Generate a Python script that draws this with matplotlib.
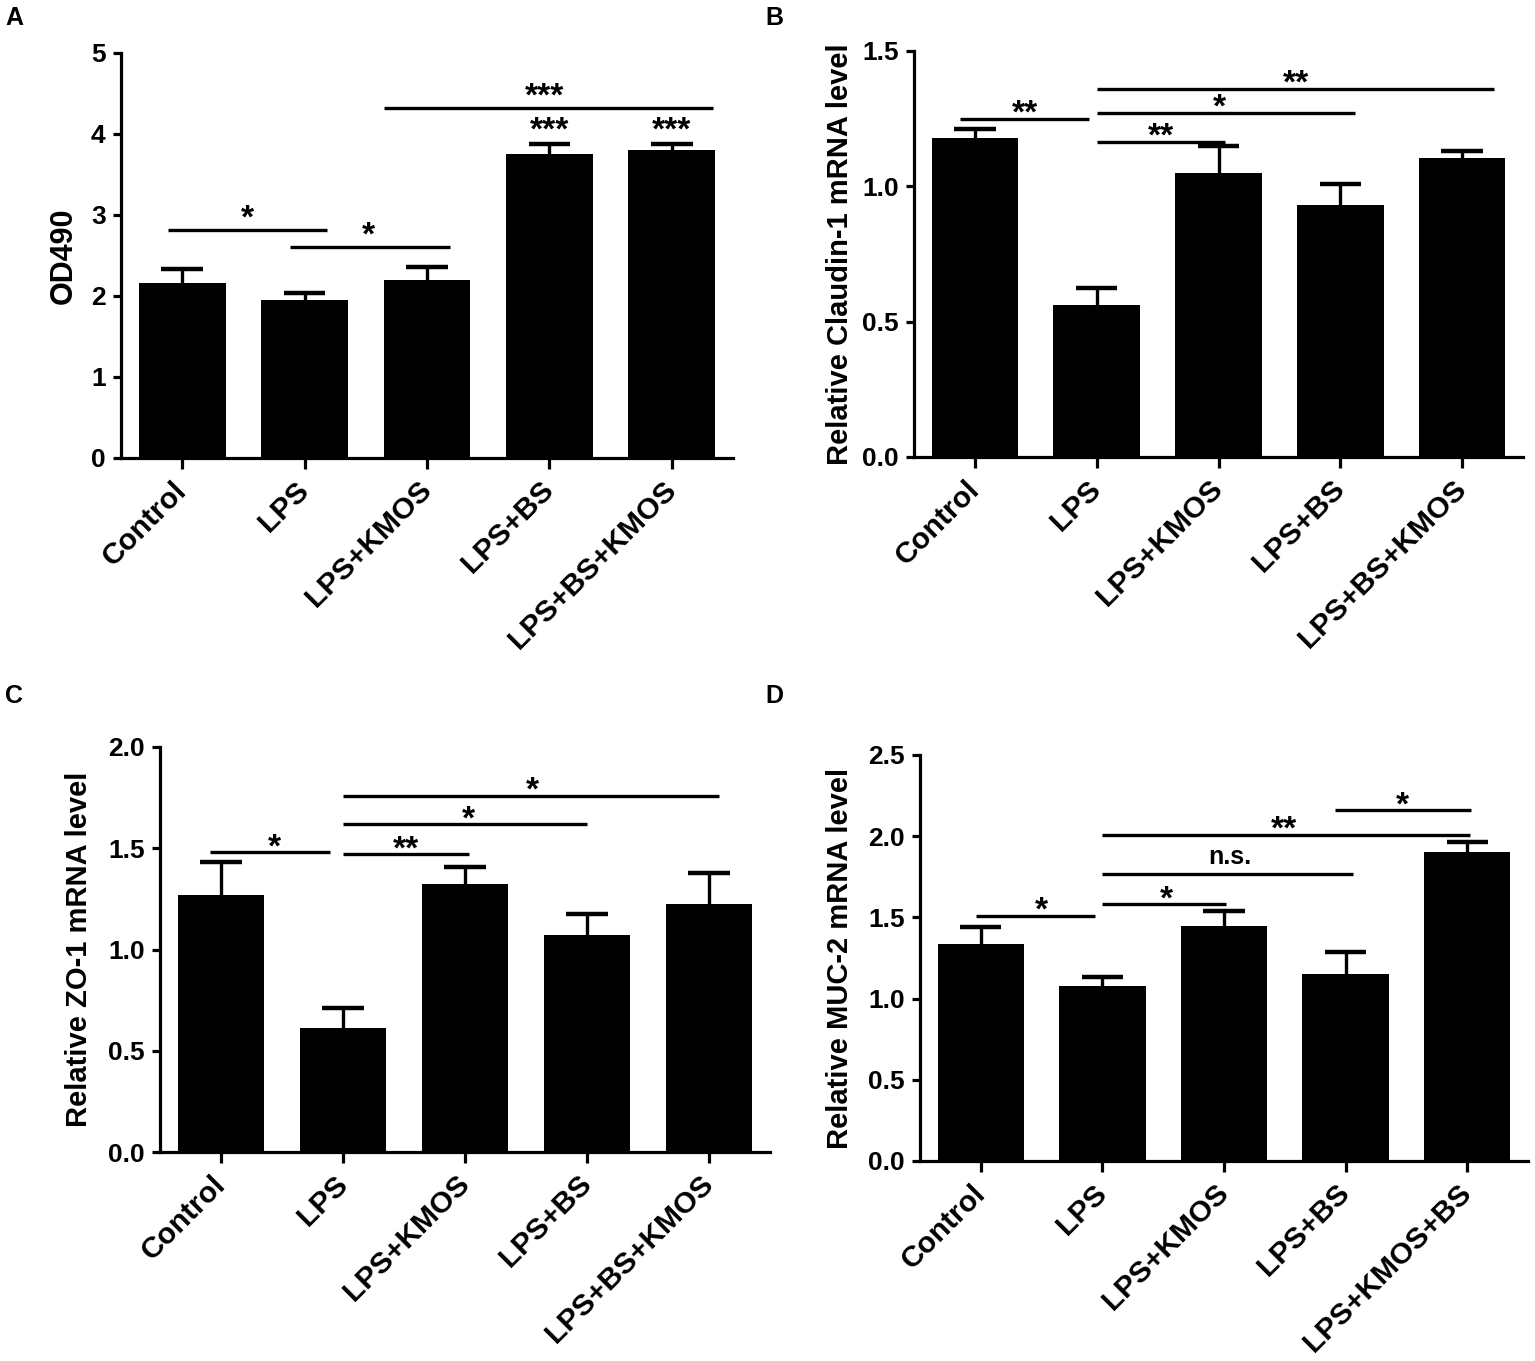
import matplotlib
matplotlib.use("Agg")
import matplotlib.pyplot as plt
from matplotlib import font_manager
import numpy as np

plt.rcParams['font.family'] = ['Liberation Sans', 'DejaVu Sans']
plt.rcParams['font.weight'] = 'bold'

_names = {f.name for f in font_manager.fontManager.ttflist}
NUM_FAMILY = ['Liberation Sans Narrow', 'Liberation Sans'] if 'Liberation Sans Narrow' in _names \
    else ['Liberation Sans']
NUM_SIZE = 21 if 'Liberation Sans Narrow' in _names else 19

# ---------------- data ----------------
groups_abc = ["Control", "LPS", "LPS+KMOS", "LPS+BS", "LPS+BS+KMOS"]
groups_d = ["Control", "LPS", "LPS+KMOS", "LPS+BS", "LPS+KMOS+BS"]

a_mean = [2.16, 1.95, 2.20, 3.75, 3.80]
a_err = [0.17, 0.09, 0.16, 0.13, 0.08]

b_mean = [1.18, 0.56, 1.05, 0.93, 1.105]
b_err = [0.03, 0.065, 0.10, 0.08, 0.025]

c_mean = [1.27, 0.61, 1.325, 1.07, 1.225]
c_err = [0.16, 0.10, 0.08, 0.105, 0.155]

d_mean = [1.335, 1.075, 1.447, 1.15, 1.90]
d_err = [0.105, 0.06, 0.09, 0.14, 0.066]

# significance brackets: (x_start, x_end, y, label, x_text)
a_sig = [(-0.12, 1.18, 2.81, "*", 0.53),
         (0.88, 2.19, 2.60, "*", 1.52),
         (1.65, 4.34, 4.32, "***", 2.96)]
a_top = [(3, "***"), (4, "***")]
b_sig = [(-0.12, 0.94, 1.25, "**", 0.41),
         (1.0, 2.05, 1.165, "**", 1.53),
         (1.0, 3.12, 1.27, "*", 2.01),
         (1.0, 4.26, 1.36, "**", 2.64)]
c_sig = [(-0.09, 0.89, 1.48, "*", 0.44),
         (1.0, 2.03, 1.47, "**", 1.52),
         (1.0, 3.0, 1.62, "*", 2.03),
         (1.0, 4.08, 1.76, "*", 2.55)]
d_sig = [(-0.04, 0.94, 1.51, "*", 0.50),
         (1.0, 2.02, 1.58, "*", 1.53),
         (1.0, 3.06, 1.77, "n.s.", 2.05),
         (1.0, 4.02, 2.01, "**", 2.49),
         (2.91, 4.03, 2.16, "*", 3.47)]

W, H = 1535, 1361
fig = plt.figure(figsize=(W / 100, H / 100), dpi=100)


def rect(l, r, t, b):
    return [l / W, 1 - b / H, (r - l) / W, (b - t) / H]


def star(ax, x, y, lab, gap_pts):
    if lab == "n.s.":
        ax.annotate(lab, xy=(x, y), xytext=(0, 7), textcoords='offset points',
                    ha='center', va='baseline', fontsize=18, fontweight='bold',
                    annotation_clip=False)
    else:
        ax.annotate(lab, xy=(x, y), xytext=(0, gap_pts), textcoords='offset points',
                    ha='center', va='baseline', fontsize=24, fontweight='bold',
                    annotation_clip=False)


def panel(r, groups, mean, err, ymax, ystep, ylabel, fmt, sigs, ylab_size, ylab_x, gap):
    ax = fig.add_axes(r)
    x = np.arange(len(groups))
    mean = np.asarray(mean)
    top = mean + np.asarray(err)
    ax.bar(x, mean, width=0.71, color='black', zorder=2)
    ax.vlines(x, mean, top, color='black', lw=2.4, zorder=1)
    ax.hlines(top, x - 0.17, x + 0.17, color='black', lw=3.2, zorder=1)
    ax.set_xlim(-0.5, 4.5)
    ax.set_ylim(0, ymax)
    ticks = np.arange(0, ymax + 1e-9, ystep)
    ax.set_yticks(ticks)
    ax.set_yticklabels([fmt.format(t) for t in ticks], fontsize=NUM_SIZE,
                       fontweight='bold', family=NUM_FAMILY)
    ax.set_xticks(x)
    ax.set_xticklabels(groups, rotation=45, ha='right', va='center',
                       rotation_mode='anchor', fontsize=21.5, fontweight='bold')
    for s in ['top', 'right']:
        ax.spines[s].set_visible(False)
    for s in ['left', 'bottom']:
        ax.spines[s].set_linewidth(2.3)
    ax.tick_params(axis='y', width=2.3, length=6, pad=5)
    ax.tick_params(axis='x', width=2.3, length=8, pad=12)
    ax.set_ylabel(ylabel, fontsize=ylab_size, fontweight='bold')
    ax.yaxis.set_label_coords(ylab_x, 0.5)
    for (x1, x2, y, lab, xt) in sigs:
        ax.plot([x1, x2], [y, y], color='black', lw=2.4, solid_capstyle='butt',
                clip_on=False)
        star(ax, xt, y, lab, gap)
    return ax


axA = panel(rect(121, 733, 53, 458), groups_abc, a_mean, a_err, 5, 1, "OD490",
            "{:.0f}", a_sig, 22, -0.0686, 2)
for (i, lab) in a_top:
    star(axA, i, a_mean[i] + a_err[i], lab, 3)

panel(rect(914, 1523, 51, 457), groups_abc, b_mean, b_err, 1.5, 0.5,
      "Relative Claudin-1 mRNA level", "{:.1f}", b_sig, 21, -0.0985, -2.5)
panel(rect(160, 770, 747, 1152), groups_abc, c_mean, c_err, 2.0, 0.5,
      "Relative ZO-1 mRNA level", "{:.1f}", c_sig, 21, -0.11, -3)
panel(rect(920, 1528, 755, 1161), groups_d, d_mean, d_err, 2.5, 0.5,
      "Relative MUC-2 mRNA level", "{:.1f}", d_sig, 21, -0.1086, -3)

for (lab, px, py) in [("A", 5, 6), ("B", 765, 6), ("C", 5, 684), ("D", 765, 684)]:
    fig.text(px / W, 1 - py / H, lab, fontsize=18, fontweight='bold', ha='left', va='top')

fig.savefig("out.png", dpi=100)
